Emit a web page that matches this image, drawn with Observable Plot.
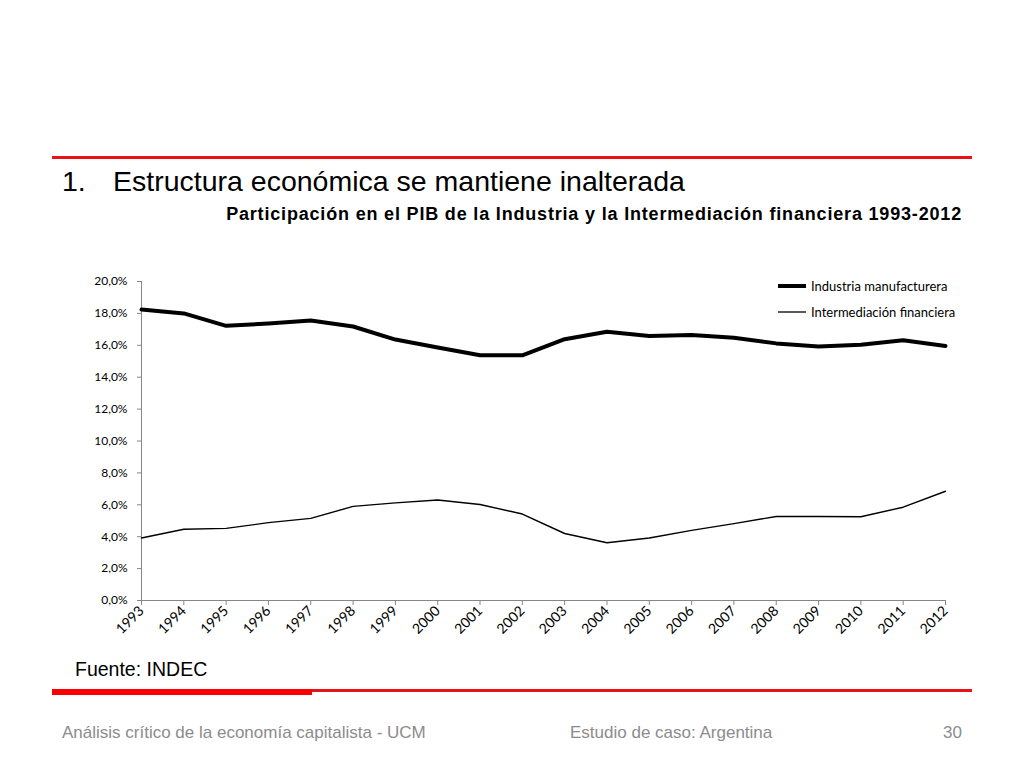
<!DOCTYPE html>
<html>
<head>
<meta charset="utf-8">
<script src="https://cdn.jsdelivr.net/npm/d3@7"></script>
<script src="https://cdn.jsdelivr.net/npm/@observablehq/plot@0.6"></script>
<style>
  body { margin:0; width:1024px; height:768px; background:#fff; position:relative; overflow:hidden; font-family:"Liberation Sans", Arial, sans-serif; }
  .abs { position:absolute; white-space:nowrap; }
  #chart { position:absolute; left:0; top:260px; }
  #chart svg text { font-family: Lato, "Open Sans", sans-serif; }
</style>
</head>
<body>
<div class="abs" style="left:52px; top:156px; width:920px; height:3px; background:#e8121a;"></div>
<div class="abs" style="left:62px; top:165px; font-size:28.5px; color:#000;">1.</div>
<div class="abs" style="left:113px; top:165px; font-size:28.5px; color:#000;">Estructura económica se mantiene inalterada</div>
<div class="abs" style="right:62px; top:204px; font-size:18px; letter-spacing:0.82px; font-weight:bold; color:#000;">Participación en el PIB de la Industria y la Intermediación financiera 1993-2012</div>

<div id="chart"></div>

<div class="abs" style="left:778px; top:278px; font-family:Lato, 'Open Sans', sans-serif; font-size:13px; color:#000;">
  <div style="display:flex; align-items:center; height:16px;"><svg width="30" height="8"><line x1="0" y1="4" x2="28" y2="4" stroke="#000" stroke-width="4"/></svg><span style="margin-left:3px">Industria manufacturera</span></div>
  <div style="display:flex; align-items:center; height:16px; margin-top:10px;"><svg width="30" height="8"><line x1="0" y1="4" x2="28" y2="4" stroke="#000" stroke-width="1.3"/></svg><span style="margin-left:3px">Intermediación financiera</span></div>
</div>

<div class="abs" style="left:75px; top:658px; font-size:19.5px; color:#000;">Fuente: INDEC</div>
<div class="abs" style="left:52px; top:689px; width:920px; height:3px; background:#e8121a;"></div>
<div class="abs" style="left:52px; top:689px; width:260px; height:6px; background:#ff0000;"></div>
<div class="abs" style="left:62px; top:723px; font-size:17px; color:#8c8c8c;">Análisis crítico de la economía capitalista - UCM</div>
<div class="abs" style="left:570px; top:723px; font-size:17px; color:#8c8c8c;">Estudio de caso: Argentina</div>
<div class="abs" style="right:62px; top:723px; font-size:17px; color:#8c8c8c;">30</div>

<script>
const years = [1993,1994,1995,1996,1997,1998,1999,2000,2001,2002,2003,2004,2005,2006,2007,2008,2009,2010,2011,2012];
const industria = [18.24,18.0,17.22,17.37,17.55,17.18,16.36,15.86,15.38,15.37,16.38,16.85,16.58,16.65,16.48,16.12,15.92,16.04,16.32,15.95];
const intermediacion = [3.92,4.47,4.52,4.88,5.15,5.9,6.12,6.3,6.02,5.42,4.2,3.62,3.92,4.4,4.82,5.27,5.27,5.25,5.85,6.85];
const yTicks = [0,2,4,6,8,10,12,14,16,18,20];

const rows1 = years.map((y,i)=>({year:y, value:industria[i]}));
const rows2 = years.map((y,i)=>({year:y, value:intermediacion[i]}));
const fmt = d => d.toFixed(1).replace('.', ',') + '%';

const chart = Plot.plot({
  width: 1024,
  height: 390,
  marginLeft: 141,
  marginRight: 79,
  marginTop: 21,
  marginBottom: 50,
  style: { fontSize: "12px", color: "#000", background: "transparent" },
  x: { domain: [1993, 2012], type: "linear" },
  y: { domain: [0, 20] },
  marks: [
    Plot.axisY({ ticks: yTicks, tickFormat: fmt, tickSize: 4, stroke: "#868686", tickPadding: 10, label: null, fill: "#000", fontSize: 12 }),
    Plot.axisX({ ticks: years, tickFormat: d => String(d), tickSize: 5, stroke: "#868686", tickRotate: -45, tickPadding: 3, label: null, fill: "#000", fontSize: 14 }),
    Plot.ruleX([1993], { stroke: "#868686", strokeWidth: 1 }),
    Plot.ruleY([0], { stroke: "#868686", strokeWidth: 1 }),
    Plot.line(rows2, { x: "year", y: "value", stroke: "#000", strokeWidth: 1.4 }),
    Plot.line(rows1, { x: "year", y: "value", stroke: "#000", strokeWidth: 4 })
  ]
});
document.getElementById("chart").appendChild(chart);
</script>
</body>
</html>
